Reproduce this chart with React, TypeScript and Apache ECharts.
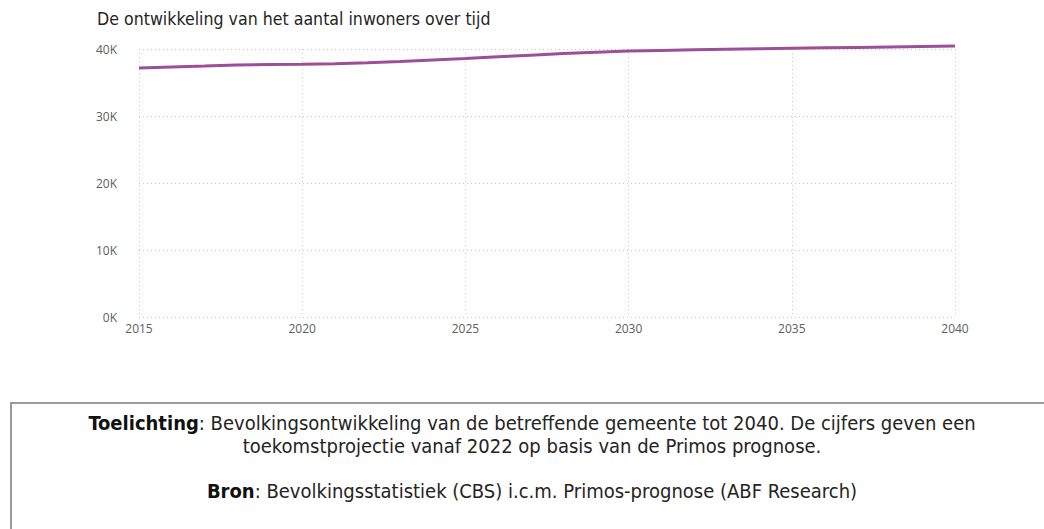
import React, { useEffect, useRef } from "react";
import * as echarts from "echarts";

const years = [2015, 2016, 2017, 2018, 2019, 2020, 2021, 2022, 2023, 2024, 2025, 2026, 2027, 2028, 2029, 2030, 2031, 2032, 2033, 2034, 2035, 2036, 2037, 2038, 2039, 2040];
const inhabitants = [37160, 37300, 37450, 37620, 37680, 37720, 37780, 37950, 38150, 38370, 38580, 38830, 39080, 39320, 39530, 39700, 39790, 39870, 39950, 40030, 40100, 40170, 40240, 40310, 40380, 40450];
const yTicks = [0, 10000, 20000, 30000, 40000];
const xTicks = [2015, 2020, 2025, 2030, 2035, 2040];

const title = "De ontwikkeling van het aantal inwoners over tijd";
const noteLine1 = "Bevolkingsontwikkeling van de betreffende gemeente tot 2040. De cijfers geven een";
const noteLine2 = "toekomstprojectie vanaf 2022 op basis van de Primos prognose.";
const sourceText = "Bevolkingsstatistiek (CBS) i.c.m. Primos-prognose (ABF Research)";

export default function App() {
  const ref = useRef<HTMLDivElement>(null);
  useEffect(() => {
    if (!ref.current) return;
    const chart = echarts.init(ref.current, null, { renderer: "svg" });
    const textFont = "'DejaVu Sans Condensed', 'DejaVu Sans', sans-serif";
    const axisFont = "'Open Sans', sans-serif";
    chart.setOption({
      animation: false,
      backgroundColor: "#ffffff",
      title: {
        text: title,
        left: 97,
        top: 10,
        padding: 0,
        textStyle: { fontFamily: textFont, fontSize: 17.6, fontWeight: "normal", color: "#252423" },
      },
      grid: { left: 139, right: 89, top: 49, bottom: 212 },
      xAxis: {
        type: "value",
        min: xTicks[0],
        max: xTicks[xTicks.length - 1],
        interval: 5,
        axisLine: { show: false },
        axisTick: { show: false },
        axisLabel: {
          color: "#605E5C",
          fontSize: 12,
          fontFamily: axisFont,
          margin: 5,
          formatter: (v: number) => String(v),
        },
        splitLine: { show: true, lineStyle: { color: "#C8C8C8", type: [1, 3], width: 1 } },
      },
      yAxis: {
        type: "value",
        min: yTicks[0],
        max: yTicks[yTicks.length - 1],
        interval: 10000,
        axisLine: { show: false },
        axisTick: { show: false },
        axisLabel: {
          color: "#605E5C",
          fontSize: 12,
          fontFamily: axisFont,
          margin: 22,
          formatter: (v: number) => `${v / 1000}K`,
        },
        splitLine: { show: true, lineStyle: { color: "#C8C8C8", type: [1, 3], width: 1 } },
      },
      series: [
        {
          type: "line",
          data: years.map((y, i) => [y, inhabitants[i]]),
          showSymbol: false,
          smooth: false,
          clip: false,
          lineStyle: { color: "#9C4F97", width: 3 },
          itemStyle: { color: "#9C4F97" },
        },
      ],
      graphic: [
        {
          type: "rect",
          shape: { x: 11, y: 403, width: 1040, height: 140 },
          style: { fill: "#ffffff", stroke: "#9a9a9a", lineWidth: 2 },
        },
        {
          type: "text",
          x: 532,
          y: 411,
          style: {
            text: `{b|Toelichting}: ${noteLine1}\n${noteLine2}`,
            align: "center",
            verticalAlign: "top",
            fontFamily: textFont,
            fontSize: 20,
            lineHeight: 23,
            fill: "#252423",
            rich: {
              b: { fontWeight: "bold", fontFamily: textFont, fontSize: 20, lineHeight: 23, fill: "#111111" },
            },
          },
        },
        {
          type: "text",
          x: 532,
          y: 479,
          style: {
            text: `{b|Bron}: ${sourceText}`,
            align: "center",
            verticalAlign: "top",
            fontFamily: textFont,
            fontSize: 20,
            lineHeight: 23,
            fill: "#252423",
            rich: {
              b: { fontWeight: "bold", fontFamily: textFont, fontSize: 20, lineHeight: 23, fill: "#111111" },
            },
          },
        },
      ],
    });
    return () => chart.dispose();
  }, []);
  return <div ref={ref} style={{ position: "absolute", left: 0, top: 0, width: 1044, height: 529 }} />;
}
